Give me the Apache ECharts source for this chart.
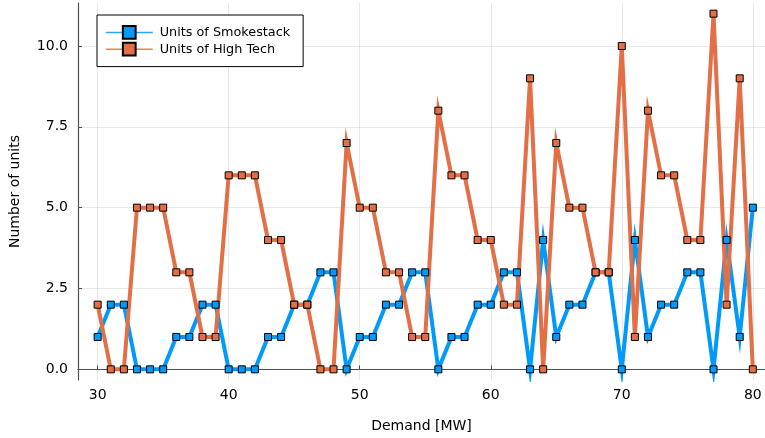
<!DOCTYPE html>
<html>
<head>
<meta charset="utf-8">
<script src="https://cdn.jsdelivr.net/npm/echarts@6/dist/echarts.min.js"></script>
<style>
  html, body { margin: 0; padding: 0; background: #ffffff; }
  #chart { width: 765px; height: 438px; }
</style>
</head>
<body>
<div id="chart"></div>
<script>
// Demand levels (MW) and the optimal unit counts for each plant type
const demand = [30, 31, 32, 33, 34, 35, 36, 37, 38, 39,
                40, 41, 42, 43, 44, 45, 46, 47, 48, 49,
                50, 51, 52, 53, 54, 55, 56, 57, 58, 59,
                60, 61, 62, 63, 64, 65, 66, 67, 68, 69,
                70, 71, 72, 73, 74, 75, 76, 77, 78, 79, 80];
const smokestack = [1, 2, 2, 0, 0, 0, 1, 1, 2, 2,
                    0, 0, 0, 1, 1, 2, 2, 3, 3, 0,
                    1, 1, 2, 2, 3, 3, 0, 1, 1, 2,
                    2, 3, 3, 0, 4, 1, 2, 2, 3, 3,
                    0, 4, 1, 2, 2, 3, 3, 0, 4, 1, 5];
const highTech = [2, 0, 0, 5, 5, 5, 3, 3, 1, 1,
                  6, 6, 6, 4, 4, 2, 2, 0, 0, 7,
                  5, 5, 3, 3, 1, 1, 8, 6, 6, 4,
                  4, 2, 2, 9, 0, 7, 5, 5, 3, 3,
                  10, 1, 8, 6, 6, 4, 4, 11, 2, 9, 0];
const seriesNames = ['Units of Smokestack', 'Units of High Tech'];
const xTicks = [30, 40, 50, 60, 70, 80];
const yTicks = [0, 2.5, 5, 7.5, 10];

const FONT = 'DejaVu Sans';
const colors = ['#009AFA', '#E26F46'];

function pairs(ys) { return demand.map((d, i) => [d, ys[i]]); }

const chart = echarts.init(document.getElementById('chart'), null, { renderer: 'canvas' });

function lineSeries(name, ys, color) {
  return {
    name: name,
    type: 'line',
    data: pairs(ys),
    symbol: 'rect',
    symbolSize: 7,
    showAllSymbol: true,
    animation: false,
    lineStyle: { color: color, width: 4, join: 'miter', miterLimit: 10 },
    itemStyle: { color: color, borderColor: '#000000', borderWidth: 1 },
    emphasis: { disabled: true }
  };
}

const axisLineStyle = { show: true, lineStyle: { color: '#505050', width: 1.2 } };
const gridLineStyle = { show: true, lineStyle: { color: 'rgba(0,0,0,0.09)', width: 1 } };

chart.setOption({
  animation: false,
  backgroundColor: '#ffffff',
  grid: { left: 73, right: 0, top: 3, bottom: 54, containLabel: false },
  legend: {
    orient: 'vertical',
    left: 97,
    top: 15,
    padding: [10, 13, 10, 8],
    itemGap: 2,
    itemWidth: 47,
    itemHeight: 16,
    backgroundColor: '#ffffff',
    borderColor: '#000000',
    borderWidth: 1,
    borderRadius: 0,
    textStyle: { fontFamily: FONT, fontSize: 12.8, color: '#000000', padding: [0, 0, 0, 2] },
    lineStyle: { width: 1.5, opacity: 0.85 },
    itemStyle: { borderColor: '#000000', borderWidth: 2 },
    data: seriesNames
  },
  xAxis: {
    type: 'value',
    min: 28.5,
    max: 80.93,
    name: 'Demand [MW]',
    nameLocation: 'middle',
    nameGap: 39,
    nameTextStyle: { fontFamily: FONT, fontSize: 14, color: '#000000' },
    axisLine: axisLineStyle,
    axisTick: { show: true, inside: true, length: 4, customValues: xTicks, lineStyle: { color: '#505050' } },
    axisLabel: {
      fontFamily: FONT, fontSize: 14, color: '#000000', margin: 8,
      customValues: xTicks,
      formatter: v => String(v)
    },
    splitLine: gridLineStyle
  },
  yAxis: {
    type: 'value',
    min: -0.33,
    max: 11.33,
    name: 'Number of units',
    nameLocation: 'middle',
    nameGap: 56,
    nameRotate: 90,
    nameTextStyle: { fontFamily: FONT, fontSize: 14, color: '#000000' },
    axisLine: axisLineStyle,
    axisTick: { show: true, inside: true, length: 4, customValues: yTicks, lineStyle: { color: '#505050' } },
    axisLabel: {
      fontFamily: FONT, fontSize: 14, color: '#000000', margin: 10,
      customValues: yTicks,
      formatter: v => v.toFixed(1)
    },
    splitLine: gridLineStyle
  },
  series: [
    lineSeries(seriesNames[0], smokestack, colors[0]),
    lineSeries(seriesNames[1], highTech, colors[1])
  ]
});
</script>
</body>
</html>
